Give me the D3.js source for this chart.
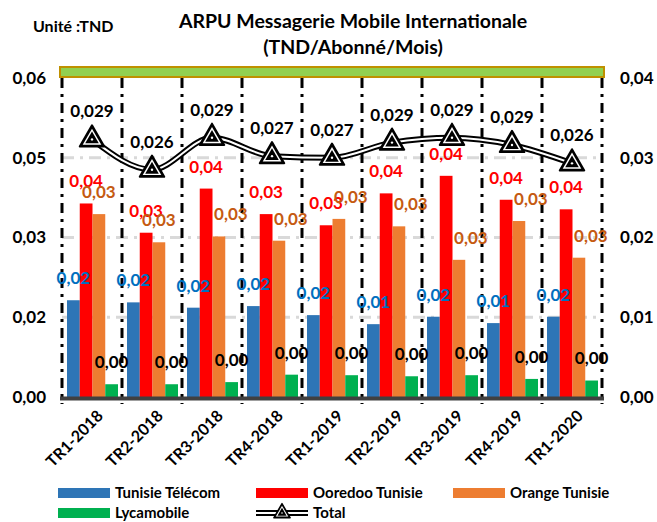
<!DOCTYPE html>
<html><head><meta charset="utf-8">
<script src="https://cdn.jsdelivr.net/npm/d3@7/dist/d3.min.js"></script>
<style>
body{margin:0;background:#fff;}
svg text{font-family:Lato,"Open Sans",sans-serif;font-weight:700;}
</style></head>
<body><svg id="c" width="657" height="522"></svg>
<script>
const categories = ["TR1-2018","TR2-2018","TR3-2018","TR4-2018","TR1-2019","TR2-2019","TR3-2019","TR4-2019","TR1-2020"];
const tunisieTelecom = [0.0182,0.0178,0.0168,0.0171,0.0154,0.0137,0.0151,0.0139,0.0151];
const ooredoo        = [0.0364,0.0309,0.0392,0.0344,0.0323,0.0383,0.0416,0.0371,0.0353];
const orange         = [0.0344,0.0291,0.0302,0.0294,0.0335,0.0321,0.0258,0.0331,0.0262];
const lycamobile     = [0.0024,0.0024,0.0028,0.0042,0.0041,0.0039,0.0041,0.0034,0.0031];
const totalValues    = [0.0323,0.0285,0.0325,0.0302,0.0300,0.0319,0.0325,0.0316,0.0293];
const totalLabels    = ["0,029","0,026","0,029","0,027","0,027","0,029","0,029","0,029","0,026"];
const leftTicks      = [0,0.015,0.03,0.045,0.06];
const leftTickLabels = ["0,00","0,02","0,03","0,05","0,06"];
const rightTicks     = [0,0.01,0.02,0.03,0.04];
const rightTickLabels= ["0,00","0,01","0,02","0,03","0,04"];
const seriesNames    = ["Tunisie Télécom","Ooredoo Tunisie","Orange Tunisie","Lycamobile"];
const seriesColors   = ["#2E75B6","#FF0000","#ED7D31","#00B050"];
const labelColors    = ["#0070C0","#FF0000","#C55A11","#000000"];

const series = [tunisieTelecom, ooredoo, orange, lycamobile];
const fmt2 = v => (Math.round(v*100+1e-9)/100).toFixed(2).replace(".",",");

const svg = d3.select("#c");
const X0 = 62, X1 = 602, YT = 78, YB = 397;
const x = d3.scaleBand().domain(categories).range([X0,X1]).padding(0);
const xs = d3.scaleBand().domain(d3.range(4)).range([5, x.bandwidth()-4]).padding(0);
const yL = d3.scaleLinear().domain([0,0.06]).range([YB,YT]);
const yR = d3.scaleLinear().domain([0,0.04]).range([YB,YT]);

// titles
svg.append("text").attr("x",33).attr("y",32).attr("font-size",16).text("Unité :TND");
svg.append("text").attr("x",353).attr("y",28).attr("text-anchor","middle").attr("font-size",19.5).text("ARPU Messagerie Mobile Internationale");
svg.append("text").attr("x",353).attr("y",54).attr("text-anchor","middle").attr("font-size",19.5).text("(TND/Abonné/Mois)");

// gridlines
svg.append("g").selectAll("line").data(leftTicks.slice(1,4)).join("line")
  .attr("x1",X0).attr("x2",X1).attr("y1",d=>yL(d)).attr("y2",d=>yL(d))
  .attr("stroke","#d9d9d9").attr("stroke-width",3).attr("stroke-dasharray","12,6,3,6");

// band at top
svg.append("rect").attr("x",X0-2).attr("y",67).attr("width",X1-X0+4).attr("height",10)
  .attr("fill","#92D050").attr("stroke","#BF9000").attr("stroke-width",2);

// vertical dashed separators
const bounds = categories.map(c=>x(c)).concat([X1]);
svg.append("g").selectAll("line").data(bounds).join("line")
  .attr("x1",d=>d).attr("x2",d=>d).attr("y1",YT).attr("y2",YB+7)
  .attr("stroke","#000").attr("stroke-width",3).attr("stroke-dasharray","10,6,3,6");

// bars
series.forEach((s,si)=>{
  svg.append("g").selectAll("rect").data(s).join("rect")
    .attr("x",(d,i)=>x(categories[i])+xs(si))
    .attr("width",xs.bandwidth())
    .attr("y",d=>yL(d)).attr("height",d=>YB-yL(d))
    .attr("fill",seriesColors[si]);
});

// baseline
svg.append("line").attr("x1",X0-2).attr("x2",X1+2).attr("y1",YB+1.5).attr("y2",YB+1.5)
  .attr("stroke","#404040").attr("stroke-width",4);

// bar labels (orange labels nudged right from the 3rd quarter on, as in the source)
series.forEach((s,si)=>{
  svg.append("g").selectAll("text").data(s).join("text")
    .attr("x",(d,i)=>x(categories[i])+xs(si)+xs.bandwidth()/2 + (si===2 && i>=2 ? 12 : 0))
    .attr("y",d=>yL(d)-22).attr("dy","0.35em")
    .attr("text-anchor","middle").attr("font-size",17)
    .attr("fill",labelColors[si]).text(d=>fmt2(d));
});

// total line
const line = d3.line().x((d,i)=>x(categories[i])+x.bandwidth()/2).y(d=>yR(d)).curve(d3.curveMonotoneX);
svg.append("path").attr("d",line(totalValues)).attr("fill","none").attr("stroke","#000").attr("stroke-width",6);
svg.append("path").attr("d",line(totalValues)).attr("fill","none").attr("stroke","#fff").attr("stroke-width",2);

function marker(g, scale){
  g.append("path").attr("d",d3.symbol(d3.symbolTriangle, 260*scale)()).attr("fill","#000").attr("stroke","#000").attr("stroke-width",2*Math.sqrt(scale)).attr("stroke-linejoin","round");
  g.append("path").attr("d",d3.symbol(d3.symbolTriangle, 150*scale)()).attr("fill","#fff");
  g.append("path").attr("d",d3.symbol(d3.symbolTriangle, 80*scale)()).attr("fill","#000");
  g.append("circle").attr("r",1.2*Math.sqrt(scale)).attr("fill","#fff");
}
totalValues.forEach((v,i)=>{
  const g = svg.append("g").attr("transform",`translate(${x(categories[i])+x.bandwidth()/2},${yR(v)})`);
  marker(g,1);
});
svg.append("g").selectAll("text").data(totalValues).join("text")
  .attr("x",(d,i)=>x(categories[i])+x.bandwidth()/2)
  .attr("y",d=>yR(d)-28).attr("dy","0.35em")
  .attr("text-anchor","middle").attr("font-size",17).attr("fill","#000")
  .text((d,i)=>totalLabels[i]);

// axes labels
const axL = d3.axisLeft(yL).tickValues(leftTicks).tickSize(0).tickPadding(0)
  .tickFormat((d,i)=>leftTickLabels[i]);
const gL = svg.append("g").attr("transform","translate(46,0)").call(axL);
gL.select(".domain").remove();
gL.selectAll("text").attr("font-size",17).attr("fill","#000").style("font-family","Lato").style("font-weight",700);

const axR = d3.axisRight(yR).tickValues(rightTicks).tickSize(0).tickPadding(0)
  .tickFormat((d,i)=>rightTickLabels[i]);
const gR = svg.append("g").attr("transform","translate(620,0)").call(axR);
gR.select(".domain").remove();
gR.selectAll("text").attr("font-size",17).attr("fill","#000").style("font-family","Lato").style("font-weight",700);

// x labels
svg.append("g").selectAll("text").data(categories).join("text")
  .attr("transform",d=>`translate(${x(d)+x.bandwidth()/2+8},${YB+16}) rotate(-45)`)
  .attr("text-anchor","end").attr("dy","0.35em").attr("font-size",16).text(d=>d);

// legend
const legendItems = [
  {name:seriesNames[0], color:seriesColors[0], x:58, y:493},
  {name:seriesNames[1], color:seriesColors[1], x:256, y:493},
  {name:seriesNames[2], color:seriesColors[2], x:453, y:493},
  {name:seriesNames[3], color:seriesColors[3], x:58, y:513},
  {name:"Total", color:null, x:256, y:513}
];
legendItems.forEach(it=>{
  if(it.color){
    svg.append("rect").attr("x",it.x).attr("y",it.y-5).attr("width",52).attr("height",10).attr("fill",it.color);
  } else {
    svg.append("line").attr("x1",it.x).attr("x2",it.x+52).attr("y1",it.y).attr("y2",it.y).attr("stroke","#000").attr("stroke-width",6);
    svg.append("line").attr("x1",it.x).attr("x2",it.x+52).attr("y1",it.y).attr("y2",it.y).attr("stroke","#fff").attr("stroke-width",2);
    const g = svg.append("g").attr("transform",`translate(${it.x+26},${it.y})`);
    marker(g,0.45);
  }
  svg.append("text").attr("x",it.x+57).attr("y",it.y).attr("dy","0.35em").attr("font-size",15).text(it.name);
});
</script></body></html>
